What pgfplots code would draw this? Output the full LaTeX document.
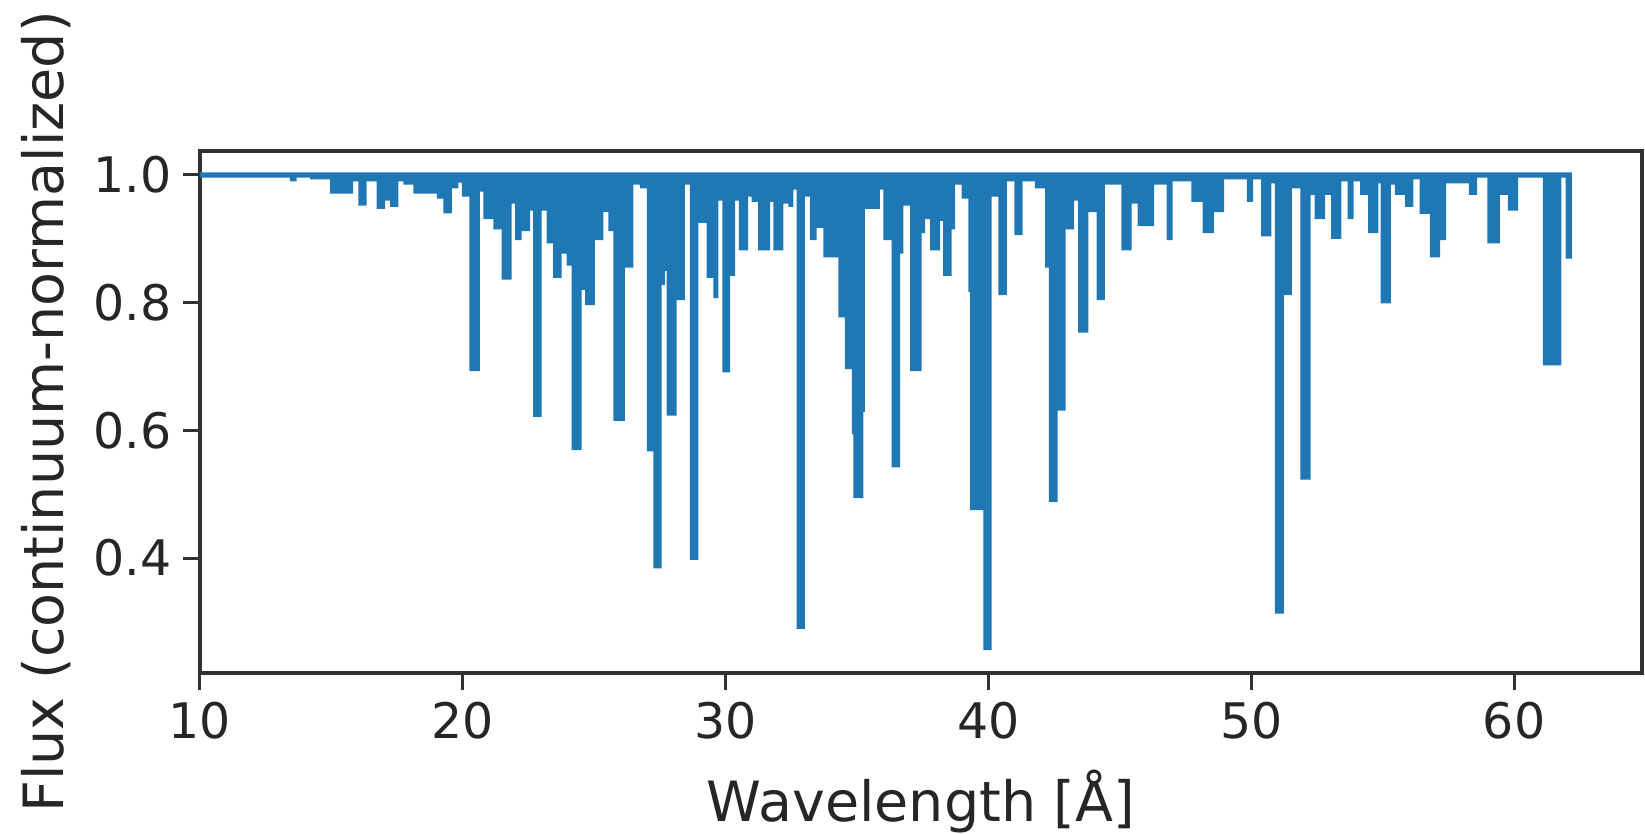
\documentclass[border=0pt]{standalone}
\usepackage{fontspec}
\setmainfont{DejaVu Sans}
\usepackage{pgfplots}
\usepackage{pgfplotstable}
\pgfplotsset{compat=1.18}
\definecolor{specblue}{RGB}{31,119,180}
\definecolor{axgray}{RGB}{50,50,50}

\pgfplotstableread{
x y
10.00 0.996
13.42 0.990
13.68 0.996
14.19 0.993
14.95 0.971
15.83 0.990
16.03 0.952
16.34 0.990
16.72 0.947
17.04 0.960
17.23 0.950
17.55 0.990
17.74 0.985
18.12 0.971
19.01 0.963
19.26 0.940
19.58 0.979
19.83 0.988
19.96 0.966
20.25 0.693
20.65 0.974
20.78 0.931
21.16 0.915
21.48 0.836
21.86 0.955
21.99 0.898
22.24 0.912
22.56 0.944
22.68 0.621
23.00 0.944
23.19 0.893
23.44 0.839
23.76 0.877
23.95 0.858
24.14 0.569
24.52 0.820
24.65 0.796
25.03 0.898
25.35 0.942
25.54 0.912
25.73 0.615
26.17 0.855
26.49 0.985
26.74 0.979
27.00 0.567
27.25 0.384
27.57 0.828
27.69 0.850
27.76 0.623
28.14 0.804
28.45 0.985
28.64 0.397
28.96 0.925
29.28 0.839
29.53 0.807
29.72 0.960
29.88 0.691
30.17 0.842
30.36 0.960
30.50 0.882
30.86 0.966
30.99 0.958
31.24 0.882
31.69 0.958
31.82 0.882
32.20 0.955
32.39 0.950
32.58 0.977
32.70 0.289
33.02 0.966
33.21 0.898
33.46 0.917
33.72 0.871
34.29 0.777
34.54 0.696
34.80 0.594
34.86 0.494
35.24 0.629
35.30 0.947
35.87 0.977
36.00 0.898
36.32 0.542
36.64 0.877
36.76 0.952
37.02 0.693
37.46 0.909
37.59 0.931
37.78 0.882
38.16 0.928
38.28 0.842
38.60 0.915
38.73 0.985
38.98 0.963
39.24 0.817
39.30 0.475
39.81 0.256
40.12 0.966
40.38 0.812
40.70 0.990
40.99 0.906
41.30 0.990
41.77 0.979
42.16 0.855
42.30 0.488
42.63 0.631
42.94 0.915
43.26 0.960
43.41 0.753
43.80 0.942
44.12 0.804
44.43 0.985
45.06 0.882
45.45 0.955
45.68 0.920
46.31 0.985
46.78 0.898
47.01 0.990
47.72 0.958
48.15 0.909
48.58 0.942
48.97 0.993
49.83 0.958
50.07 0.993
50.38 0.904
50.77 0.987
50.90 0.313
51.24 0.812
51.55 0.979
51.87 0.523
52.26 0.969
52.41 0.931
52.81 0.969
53.04 0.900
53.43 0.990
53.67 0.931
53.90 0.990
54.14 0.969
54.45 0.909
54.84 0.987
54.92 0.799
55.31 0.985
55.47 0.969
55.86 0.950
56.17 0.993
56.41 0.939
56.80 0.871
57.19 0.898
57.42 0.987
58.28 0.969
58.60 0.996
58.99 0.893
59.46 0.969
59.77 0.944
60.16 0.996
61.10 0.702
61.80 0.996
61.96 0.869
62.20 0.869
62.20 1.004
10.00 1.004
}\spectrum

\begin{document}
\begin{tikzpicture}
\useasboundingbox (-60bp,-48.3bp) rectangle (433.5bp,201.9bp);
\begin{axis}[
  at={(0,0)}, anchor=south west,
  scale only axis,
  width=432.6bp, height=156.6bp,
  xmin=10, xmax=64.87,
  ymin=0.2200, ymax=1.0376,
  xtick={10,20,30,40,50,60},
  ytick={0.4,0.6,0.8,1.0},
  yticklabel style={/pgf/number format/.cd, fixed, fixed zerofill, precision=1},
  /pgf/number format/assume math mode=true,
  tick pos=left,
  tick align=outside,
  major tick length=5.1bp,
  every tick/.style={line width=0.9bp, axgray},
  axis line style={line width=1.2bp, axgray},
  tick label style={font=\fontsize{14.7bp}{17bp}\selectfont, text=black!85},
  every axis x label/.style={at={(axis description cs:0.5,-0.2854)}, anchor=base, font=\fontsize{16.65bp}{20bp}\selectfont, text=black!85},
  every axis y label/.style={at={(axis description cs:-0.0950,0.5)}, rotate=90, anchor=base, font=\fontsize{16.65bp}{20bp}\selectfont, text=black!85},
  xlabel={Wavelength [Å]},
  ylabel={Flux (continuum-normalized)},
  axis on top=false,
]
\addplot[const plot, fill=specblue, draw=none, mark=none] table[x=x, y=y] {\spectrum};
\end{axis}
\end{tikzpicture}
\end{document}
